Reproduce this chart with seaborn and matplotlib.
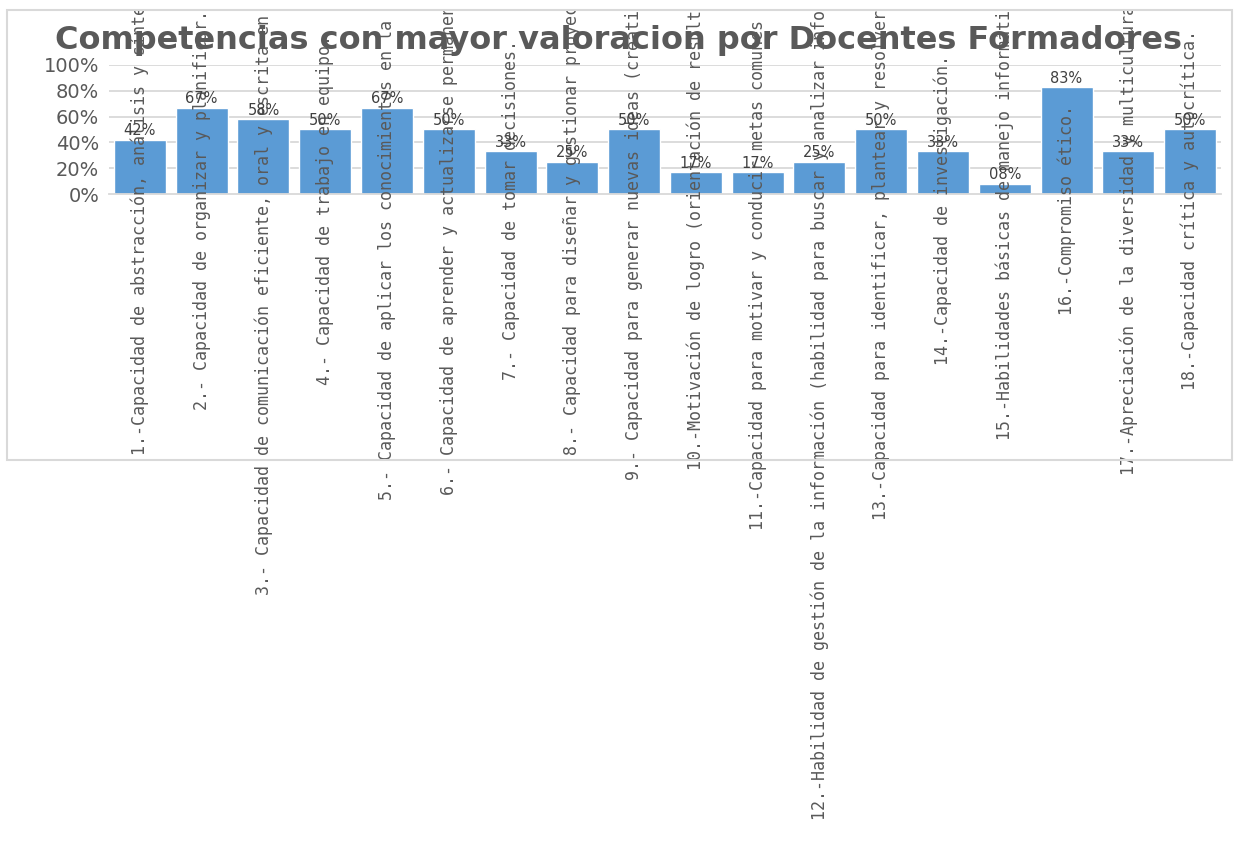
import matplotlib
matplotlib.use("Agg")
import matplotlib.pyplot as plt
from matplotlib.patches import Rectangle
from matplotlib.ticker import PercentFormatter
import seaborn as sns

# competencias genericas - valoracion de docentes formadores
competencias = [
    "1.-Capacidad de abstracción, análisis y síntesis.",
    "2.- Capacidad de organizar y planificar.",
    "3.- Capacidad de comunicación eficiente, oral y escrita en la lengua materna.",
    "4.- Capacidad de trabajo en equipo.",
    "5.- Capacidad de aplicar los conocimientos en la práctica.",
    "6.- Capacidad de aprender y actualizarse permanentemente.",
    "7.- Capacidad de tomar decisiones.",
    "8.- Capacidad para diseñar y gestionar proyectos.",
    "9.- Capacidad para generar nuevas ideas (creatividad).",
    "10.-Motivación de logro (orientación de resultados).",
    "11.-Capacidad para motivar y conducir metas comunes (liderazgo).",
    "12.-Habilidad de gestión de la información (habilidad para buscar y analizar información proveniente de fuentes diversas).",
    "13.-Capacidad para identificar, plantear y resolver problemas.",
    "14.-Capacidad de investigación.",
    "15.-Habilidades básicas de manejo informático.",
    "16.-Compromiso ético.",
    "17.-Apreciación de la diversidad y multiculturalidad.",
    "18.-Capacidad crítica y autocrítica.",
]
porcentajes = [42, 67, 58, 50, 67, 50, 33, 25, 50, 17, 17, 25, 50, 33, 8, 83, 33, 50]
valores = [p / 100 for p in porcentajes]
yticks = [0, 0.2, 0.4, 0.6, 0.8, 1.0]

gris = "#595959"
gris_linea = "#d9d9d9"
azul = "#5B9BD5"

sns.set_theme(style="white")
plt.rcParams["font.family"] = ["DejaVu Sans"]

fig = plt.figure(figsize=(12.35, 8.42), dpi=100)
ax = fig.add_axes([109 / 1235, 648 / 842, 1112 / 1235, 129 / 842])

sns.barplot(x=competencias, y=valores, color=azul, saturation=1, width=0.84, ax=ax, zorder=2)

ax.set_ylim(0, 1)
ax.set_xlim(-0.5, len(competencias) - 0.5)
ax.set_yticks(yticks)
ax.yaxis.set_major_formatter(PercentFormatter(1, decimals=0))
# textos del eje por encima de las barras, cuadricula por debajo
ax.set_axisbelow(False)
for t in yticks[1:]:
    ax.axhline(t, color=gris_linea, lw=1.3, zorder=0.5)
for s in ["top", "left", "right"]:
    ax.spines[s].set_visible(False)
ax.spines["bottom"].set_color(gris_linea)
ax.spines["bottom"].set_linewidth(1.3)
ax.tick_params(axis="y", length=0, pad=7, labelsize=14, labelcolor=gris)
ax.set_xlabel("")
ax.set_ylabel("")

# etiquetas del eje x: verticales, centradas un poco debajo del eje
ax.set_xticks(range(len(competencias)))
ax.set_xticklabels(competencias, rotation=90, ha="center", va="center",
                   fontfamily="DejaVu Sans Mono", fontsize=12, color=gris)
ax.tick_params(axis="x", length=0, pad=11.5)

etiquetas = [f"{p:02d}%" for p in porcentajes]
ax.bar_label(ax.containers[0], labels=etiquetas, padding=1, fontsize=10.5, color="#404040")

fig.text(0.501, 1 - 41 / 842, "Competencias con mayor valoracion por Docentes Formadores",
         ha="center", va="center", fontsize=23, fontweight="bold", color=gris)

# recorte superior y borde del area del grafico
fig.add_artist(Rectangle((0, 1 - 9 / 842), 1, 9 / 842, transform=fig.transFigure,
                         facecolor="white", edgecolor="none", zorder=5))
fig.add_artist(Rectangle((7 / 1235, 1 - 460 / 842), 1225 / 1235, 450 / 842,
                         transform=fig.transFigure, facecolor="none",
                         edgecolor=gris_linea, lw=1.5, zorder=6))

fig.savefig("out.png", dpi=100)
